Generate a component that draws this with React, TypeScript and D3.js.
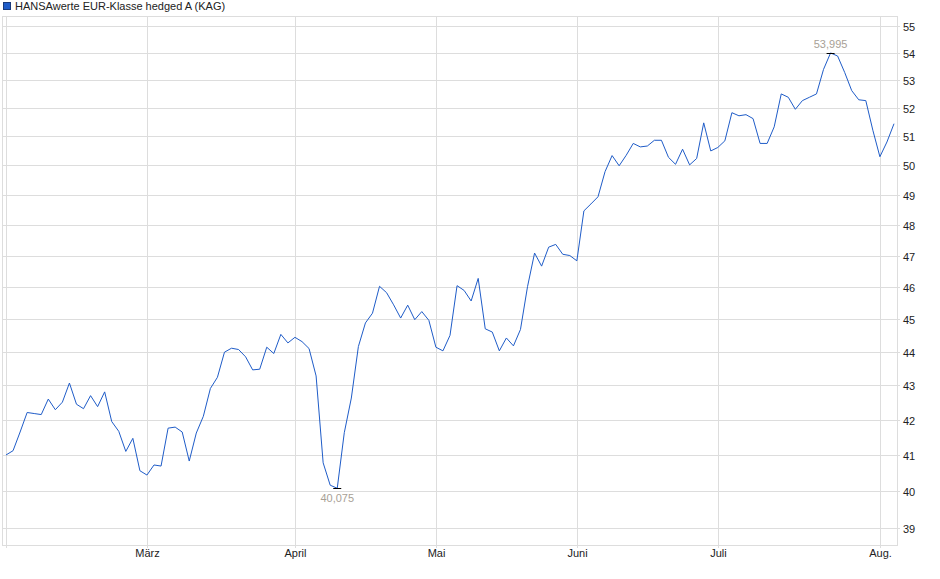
import { useEffect } from "react";
import * as d3 from "d3";

// trading-day closes, Feb .. early Aug
const values = [
  41.0, 41.12, 41.65, 42.21, 42.18, 42.15, 42.6, 42.29, 42.51, 43.07,
  42.45, 42.32, 42.7, 42.38, 42.81, 41.95, 41.67, 41.1, 41.47, 40.56,
  40.44, 40.72, 40.69, 41.76, 41.79, 41.65, 40.83, 41.62, 42.1, 42.91,
  43.24, 43.99, 44.11, 44.07, 43.85, 43.46, 43.48, 44.14, 43.95, 44.53,
  44.27, 44.44, 44.31, 44.1, 43.28, 40.78, 40.16, 40.075, 41.63, 42.63,
  44.16, 44.88, 45.18, 46.02, 45.82, 45.44, 45.03, 45.43, 44.98, 45.23,
  44.96, 44.14, 44.03, 44.5, 46.04, 45.89, 45.56, 46.27, 44.7, 44.6,
  44.03, 44.42, 44.18, 44.68, 46.01, 47.08, 46.66, 47.27, 47.36, 47.04,
  47.0, 46.83, 48.46, 48.69, 48.93, 49.78, 50.33, 49.98, 50.34, 50.75,
  50.63, 50.66, 50.86, 50.86, 50.27, 50.03, 50.55, 50.01, 50.23, 51.47,
  50.49, 50.61, 50.84, 51.83, 51.72, 51.76, 51.62, 50.75, 50.75, 51.33,
  52.5, 52.38, 51.95, 52.26, 52.38, 52.5, 53.39, 53.995, 53.88, 53.28,
  52.62, 52.29, 52.26, 51.21, 50.29, 50.8, 51.44,
];

// index of the first trading day of each month
const monthIdx = [0, 20, 41, 61, 81, 101, 124];
const monthLabels = ["", "März", "April", "Mai", "Juni", "Juli", "Aug."];

const yTicks = [39, 40, 41, 42, 43, 44, 45, 46, 47, 48, 49, 50, 51, 52, 53, 54, 55];

const seriesName = "HANSAwerte EUR-Klasse hedged A (KAG)";

const width = 940;
const height = 579;
const frameLeft = 2;
const frameRight = 897;
const frameTop = 16;
const frameBottom = 545;
const lineColor = "#1f5cc8";
const gridColor = "#dddddd";
const font = "'Liberation Sans', Arial, sans-serif";

const fmt = (v: number) => v.toFixed(3).replace(".", ",");

export default function App() {
  useEffect(() => {
    document.body.style.margin = "0";
  }, []);

  const x = d3.scaleLinear().domain([0, values.length - 1]).range([6, 894]);
  const y = d3.scaleLog().domain([39, 55]).range([528, 26]);

  const line = d3
    .line<number>()
    .x((_, i) => x(i))
    .y((d) => y(d));

  const minI = d3.minIndex(values);
  const maxI = d3.maxIndex(values);

  return (
    <svg width={width} height={height} style={{ display: "block" }} fontFamily={font}>
      {/* legend */}
      <rect x={3.5} y={2.5} width={7} height={7} fill="#1f5cc8" stroke="#1a3a7a" />
      <text x={15} y={10} fontSize={11} fill="#222">
        {seriesName}
      </text>

      {/* frame */}
      <rect
        x={frameLeft + 0.5}
        y={frameTop + 0.5}
        width={frameRight - frameLeft}
        height={frameBottom - frameTop}
        fill="none"
        stroke={gridColor}
      />

      {/* horizontal grid + right axis */}
      {yTicks.map((t) => {
        const yy = Math.round(y(t)) + 0.5;
        return (
          <g key={t}>
            <line x1={frameLeft} x2={frameRight + 3} y1={yy} y2={yy} stroke={gridColor} />
            <text x={903} y={yy + 4} fontSize={11} fill="#222">
              {t}
            </text>
          </g>
        );
      })}

      {/* vertical grid + month labels */}
      {monthIdx.map((m, k) => {
        const xx = Math.round(x(m)) + 0.5;
        return (
          <g key={m}>
            <line x1={xx} x2={xx} y1={frameTop} y2={frameBottom + 3} stroke={gridColor} />
            <text x={xx} y={557} fontSize={11} fill="#222" textAnchor="middle">
              {monthLabels[k]}
            </text>
          </g>
        );
      })}

      {/* series */}
      <path d={line(values) ?? ""} fill="none" stroke={lineColor} strokeWidth={1} />

      {/* min / max markers */}
      <line
        x1={x(minI) - 4}
        x2={x(minI) + 4}
        y1={Math.round(y(values[minI])) + 0.5}
        y2={Math.round(y(values[minI])) + 0.5}
        stroke="#000"
      />
      <text x={x(minI)} y={y(values[minI]) + 14} fontSize={11} fill="#a89f96" textAnchor="middle">
        {fmt(values[minI])}
      </text>
      <line
        x1={x(maxI) - 4}
        x2={x(maxI) + 4}
        y1={Math.round(y(values[maxI])) + 0.5}
        y2={Math.round(y(values[maxI])) + 0.5}
        stroke="#000"
      />
      <text x={x(maxI)} y={y(values[maxI]) - 5} fontSize={11} fill="#a89f96" textAnchor="middle">
        {fmt(values[maxI])}
      </text>
    </svg>
  );
}
